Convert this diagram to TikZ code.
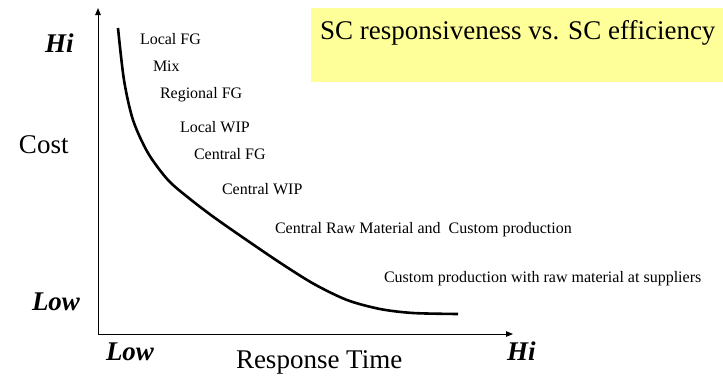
\documentclass[tikz,border=0pt]{standalone}
\usepackage{fontspec}
\setmainfont{Liberation Serif}
\usetikzlibrary{arrows.meta, positioning}
\definecolor{noteyellow}{HTML}{FFFF99}

\begin{document}
\begin{tikzpicture}[x=1pt, y=-1pt,
  every node/.style={inner sep=0pt, outer sep=0pt},
  small/.style={anchor=base west, font=\fontsize{16}{19}\selectfont},
  big/.style={anchor=base west, font=\fontsize{27}{32}\selectfont},
  level/.style={anchor=base west, font=\fontsize{27}{32}\selectfont\bfseries\itshape},
  axis/.style={line width=1pt, -{Triangle[length=7pt, width=5.5pt]}}]
  \useasboundingbox (0,0) rectangle (723,378);
  \fill[noteyellow] (311,8) rectangle (723,82);
  \node[big] (title) at (320,39) {SC responsiveness vs. SC efficiency};

  \coordinate (origin) at (98,334);
  \coordinate (ytop) at (98,8);
  \coordinate (xend) at (513,334);
  \draw[axis] (origin) -- (ytop);
  \draw[axis] (origin) -- (xend);

  \draw[line width=2.6pt] plot[smooth, tension=0.5] coordinates
    {(118,28) (124,80) (133,120) (148,153) (168,180) (190,199) (215,218) (248,241)
     (282,264) (314,284) (347,300) (380,309) (413,313) (458,314)};

  \node[level] (costhi) at (45,52) {Hi};
  \node[big] (cost) at (19,153) {Cost};
  \node[level] (costlow) at (32,310) {Low};
  \node[level] (timelow) at (106,360) {Low};
  \node[big] (time) at (236,368) {Response Time};
  \node[level] (timehi) at (507,360) {Hi};

  \node[small] (localfg) at (140,44) {Local FG};
  \node[small] (mix) at (153,71) {Mix};
  \node[small] (regfg) at (160,98) {Regional FG};
  \node[small] (localwip) at (180,132) {Local WIP};
  \node[small] (centfg) at (194,159) {Central FG};
  \node[small] (centwip) at (222,194) {Central WIP};
  \node[small] (centraw) at (275,233) {Central Raw Material and~ Custom production};
  \node[small] (custom) at (384,282) {Custom production with raw material at suppliers};
\end{tikzpicture}
\end{document}
